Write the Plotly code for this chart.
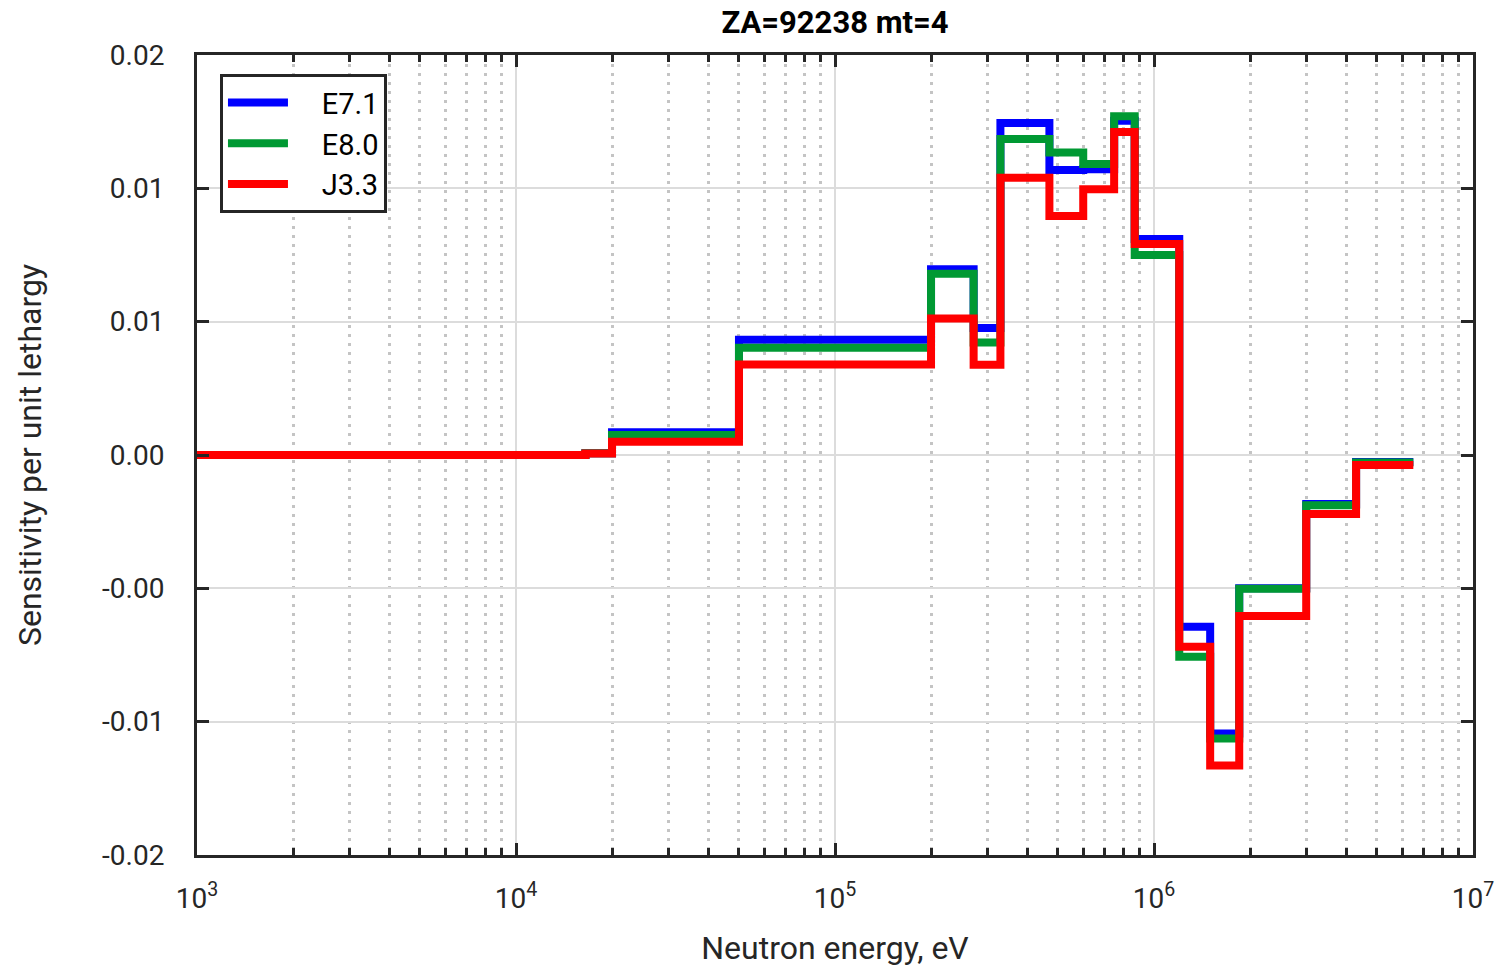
import plotly.graph_objects as go

# Group boundaries (eV)
energy_edges = [1e3, 1.65e4, 2e4, 5e4, 2e5, 2.72e5, 3.3e5, 4.7e5, 6e5, 7.5e5,
                8.7e5, 1.2e6, 1.5e6, 1.85e6, 3e6, 4.3e6, 6.5e6]

# Sensitivity per unit lethargy for each group
e71 = [0.0, 0.00007, 0.00085, 0.00432, 0.00697, 0.00476, 0.01245, 0.01069, 0.01072,
       0.01253, 0.0081, -0.00644, -0.01044, -0.00500, -0.00184, -0.00026]
e80 = [0.0, 0.00007, 0.00075, 0.00402, 0.00680, 0.00422, 0.01185, 0.01134, 0.01091,
       0.01270, 0.0075, -0.00757, -0.01063, -0.00502, -0.00188, -0.00028]
j33 = [0.0, 0.00006, 0.00050, 0.00339, 0.00512, 0.00338, 0.01040, 0.00896, 0.00997,
       0.01211, 0.00791, -0.00719, -0.01164, -0.00604, -0.00221, -0.000375]

series = [("E7.1", e71, "#0000ff"), ("E8.0", e80, "#009933"), ("J3.3", j33, "#ff0000")]

x_tick_vals = [1e3, 1e4, 1e5, 1e6, 1e7]
x_tick_text = ["10<sup>3</sup>", "10<sup>4</sup>", "10<sup>5</sup>", "10<sup>6</sup>", "10<sup>7</sup>"]
y_tick_vals = [-0.015, -0.01, -0.005, 0.0, 0.005, 0.01, 0.015]
y_tick_text = ["-0.02", "-0.01", "-0.00", "0.00", "0.01", "0.01", "0.02"]

FONT = "Roboto, Liberation Sans, Arial, sans-serif"
AX = "#262626"
PAD = "\u00a0" * 4

fig = go.Figure()
for name, vals, color in series:
    fig.add_trace(go.Scatter(
        x=energy_edges, y=list(vals) + [vals[-1]], mode="lines", name=PAD + name,
        line=dict(color=color, width=8, shape="hv"),
    ))

minor_vals = [k * 10 ** d for d in range(3, 7) for k in range(2, 10)]

fig.update_layout(
    width=1498, height=970,
    margin=dict(l=197, r=25, t=55, b=115, autoexpand=False),
    paper_bgcolor="white", plot_bgcolor="white",
    font=dict(family=FONT, size=28, color=AX),
    title=dict(text="<b>ZA=92238 mt=4</b>", x=(197 + 1473) / 2 / 1498, xanchor="center",
               y=1 - 22 / 970, yanchor="middle", font=dict(size=31, color="black")),
    showlegend=True,
    legend=dict(x=0.018, y=0.976, xanchor="left", yanchor="top",
                bgcolor="white", bordercolor="#262626", borderwidth=3,
                font=dict(size=29, color="black"), tracegroupgap=0,
                itemwidth=60),
)

fig.update_xaxes(
    type="log", range=[3, 7], automargin=False,
    tickmode="array", tickvals=x_tick_vals, ticktext=x_tick_text,
    ticks="inside", ticklen=12, tickwidth=2.5, tickcolor=AX,
    showline=True, linecolor=AX, linewidth=3, mirror="allticks",
    showgrid=True, gridcolor="#dcdcdc", gridwidth=2,
    zeroline=False, ticklabelstandoff=16,
    minor=dict(tickmode="array", tickvals=minor_vals, ticks="inside", ticklen=7,
               tickwidth=2.5, tickcolor=AX, showgrid=True, gridcolor="#c4c4c4",
               gridwidth=3, griddash="3px,6px"),
    title=dict(text="Neutron energy, eV", font=dict(size=32, color=AX), standoff=24),
)
fig.update_yaxes(
    range=[-0.015, 0.015], automargin=False,
    tickmode="array", tickvals=y_tick_vals, ticktext=y_tick_text,
    ticks="inside", ticklen=12, tickwidth=2.5, tickcolor=AX,
    showline=True, linecolor=AX, linewidth=3, mirror="allticks",
    showgrid=True, gridcolor="#dcdcdc", gridwidth=2,
    zeroline=False, ticklabelstandoff=24,
    title=dict(text="Sensitivity per unit lethargy", font=dict(size=32, color=AX), standoff=51),
)

fig.write_html("out.html")
